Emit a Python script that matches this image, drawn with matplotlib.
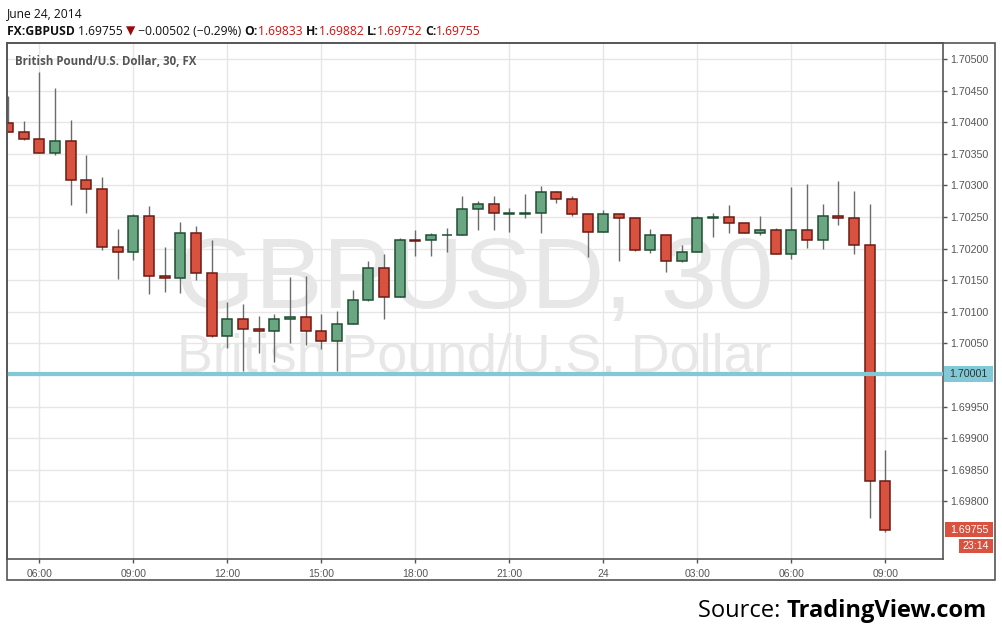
import matplotlib
matplotlib.use("Agg")
import matplotlib.pyplot as plt
from matplotlib.patches import Rectangle
from matplotlib.transforms import blended_transform_factory
import numpy as np

# ---------------- data ----------------
opens = [1.70399, 1.70385, 1.70374, 1.70351, 1.70371, 1.70308, 1.70294, 1.70202, 1.70194, 1.70252,
         1.70157, 1.70153, 1.70224, 1.70161, 1.70062, 1.70089, 1.70073, 1.70070, 1.70089, 1.70092,
         1.70070, 1.70054, 1.70081, 1.70119, 1.70170, 1.70124, 1.70214, 1.70213, 1.70221, 1.70222,
         1.70262, 1.70271, 1.70255, 1.70255, 1.70257, 1.70290, 1.70278, 1.70254, 1.70227, 1.70254,
         1.70249, 1.70198, 1.70221, 1.70181, 1.70195, 1.70248, 1.70250, 1.70241, 1.70225, 1.70230,
         1.70192, 1.70229, 1.70214, 1.70252, 1.70248, 1.70206, 1.69833]
highs = [1.70441, 1.70402, 1.70479, 1.70454, 1.70404, 1.70348, 1.70313, 1.70231, 1.70254, 1.70267,
         1.70203, 1.70242, 1.70235, 1.70214, 1.70116, 1.70113, 1.70093, 1.70096, 1.70155, 1.70157,
         1.70096, 1.70102, 1.70134, 1.70180, 1.70191, 1.70216, 1.70230, 1.70224, 1.70232, 1.70283,
         1.70275, 1.70283, 1.70264, 1.70286, 1.70299, 1.70291, 1.70283, 1.70257, 1.70261, 1.70254,
         1.70249, 1.70231, 1.70221, 1.70206, 1.70251, 1.70257, 1.70269, 1.70241, 1.70251, 1.70232,
         1.70298, 1.70302, 1.70271, 1.70307, 1.70291, 1.70270, 1.69882]
lows = [1.70384, 1.70372, 1.70351, 1.70348, 1.70269, 1.70257, 1.70197, 1.70152, 1.70182, 1.70128,
        1.70131, 1.70130, 1.70150, 1.70060, 1.70042, 1.70007, 1.70035, 1.70021, 1.70051, 1.70047,
        1.70041, 1.70007, 1.70081, 1.70117, 1.70089, 1.70124, 1.70188, 1.70188, 1.70195, 1.70222,
        1.70229, 1.70229, 1.70226, 1.70249, 1.70225, 1.70272, 1.70252, 1.70187, 1.70227, 1.70181,
        1.70196, 1.70193, 1.70163, 1.70179, 1.70195, 1.70219, 1.70224, 1.70225, 1.70221, 1.70192,
        1.70184, 1.70201, 1.70200, 1.70238, 1.70192, 1.69773, 1.69752]
closes = [1.70384, 1.70374, 1.70351, 1.70371, 1.70308, 1.70294, 1.70202, 1.70194, 1.70252, 1.70157,
          1.70153, 1.70224, 1.70161, 1.70062, 1.70089, 1.70073, 1.70070, 1.70089, 1.70092, 1.70070,
          1.70054, 1.70081, 1.70119, 1.70170, 1.70124, 1.70214, 1.70212, 1.70222, 1.70222, 1.70262,
          1.70271, 1.70256, 1.70256, 1.70257, 1.70290, 1.70278, 1.70254, 1.70227, 1.70254, 1.70249,
          1.70198, 1.70221, 1.70181, 1.70195, 1.70248, 1.70250, 1.70241, 1.70225, 1.70230, 1.70192,
          1.70229, 1.70214, 1.70252, 1.70248, 1.70206, 1.69833, 1.69755]

x_tick_pos = [2, 8, 14, 20, 26, 32, 38, 44, 50, 56]
x_tick_labels = ["06:00", "09:00", "12:00", "15:00", "18:00", "21:00", "24", "03:00", "06:00", "09:00"]
y_ticks = [1.69800, 1.69850, 1.69900, 1.69950, 1.70000, 1.70050, 1.70100, 1.70150,
           1.70200, 1.70250, 1.70300, 1.70350, 1.70400, 1.70450, 1.70500]
hline_value = 1.70001
last_price = 1.69755
countdown = "23:14"

# ---------------- figure ----------------
W, H = 1002, 637
fig = plt.figure(figsize=(W / 100, H / 100), dpi=100)
fig.patch.set_facecolor("white")

def fx(x):
    return x / W

def fy(y):
    return 1 - y / H

L, R, T, B = 6.7, 943.3, 43.3, 559.3
ax = fig.add_axes([fx(L), fy(B), fx(R) - fx(L), fy(T) - fy(B)])
ax.set_facecolor("white")

RED_F, RED_E = "#d9523f", "#6b1a13"
GRN_F, GRN_E = "#6aa682", "#1f4f33"
WICK = "#6b6b6b"
GRID = "#e6e6e6"
FRAME = "#555555"
BLUE = "#82c9d8"

n = len(opens)
idx = np.arange(n)
bw = 0.64
for i in idx:
    o, h, l, c = opens[i], highs[i], lows[i], closes[i]
    up = c >= o
    ax.vlines(i, l, h, color=WICK, lw=1.0, zorder=3)
    bot = min(o, c)
    ht = abs(c - o)
    ax.add_patch(Rectangle((i - bw / 2, bot), bw, ht,
                           facecolor=GRN_F if up else RED_F,
                           edgecolor=GRN_E if up else RED_E, lw=1.1, zorder=4))

ax.set_xlim(-0.083, 59.69)
ax.set_ylim(1.697084, 1.705248)
PXY = 1 / 63200.0  # price units per pixel (for label box sizes)

# grid
for yv in y_ticks:
    ax.axhline(yv, color=GRID, lw=1, zorder=0)
for xv in x_tick_pos:
    ax.axvline(xv, color=GRID, lw=1, zorder=0)

bt = blended_transform_factory(ax.transAxes, ax.transData)

# watermark
ax.text(0.4995, 1.70106, "GBPUSD, 30", transform=bt,
        ha="center", va="baseline", fontsize=73, color="#e7e7e7", family="Liberation Sans", zorder=1)
ax.text(0.4995, 1.70005, "British Pound/U.S. Dollar", transform=bt,
        ha="center", va="baseline", fontsize=38.7, color="#e7e7e7", family="Liberation Sans", zorder=1)

# horizontal line
ax.axhline(hline_value, color=BLUE, lw=3, zorder=5)

# ticks
ax.set_xticks(x_tick_pos)
ax.set_xticklabels(x_tick_labels, family="Liberation Sans", fontsize=7.5, color="#555555")
ax.yaxis.tick_right()
ax.set_yticks(y_ticks)
ax.set_yticklabels(["" if abs(v - 1.7) < 1e-9 else f"{v:.5f}" for v in y_ticks],
                   family="Liberation Sans", fontsize=7.7, color="#555555")
ax.tick_params(axis="both", direction="out", length=3, color=FRAME, width=1)
ax.tick_params(axis="x", pad=4)
ax.tick_params(axis="y", pad=2)
for s in ax.spines.values():
    s.set_color(FRAME)
    s.set_linewidth(1.2)

# outer frame
fig.patches.append(Rectangle((fx(L), fy(580.3)), fx(995.3) - fx(L), fy(T) - fy(580.3),
                             transform=fig.transFigure, fill=False, edgecolor=FRAME, lw=1.2))

# right-side labels (boxes)
def ax_frac(px):
    return (px - L) / (R - L)

def label_box(x0px, x1px, yc, hpx, color, text, tcolor):
    ax.add_patch(Rectangle((ax_frac(x0px), yc - hpx / 2 * PXY), ax_frac(x1px) - ax_frac(x0px), hpx * PXY,
                           transform=bt, facecolor=color, edgecolor="none", zorder=9, clip_on=False))
    ax.text((ax_frac(x0px) + ax_frac(x1px)) / 2, yc, text, transform=bt, ha="center", va="center",
            fontsize=7.7, family="Liberation Sans", color=tcolor, zorder=10, clip_on=False)

label_box(944, 993, hline_value, 16, BLUE, "1.70001", "#333333")
label_box(945, 993, last_price, 15, RED_F, "1.69755", "white")
label_box(959, 993, last_price - 0.000256, 14, RED_F, countdown, "white")

# chart title inside
fig.text(fx(15), fy(65), "British Pound/U.S. Dollar, 30, FX", fontsize=8.3, fontweight="bold",
         color="#555555", family="Open Sans", ha="left", va="baseline")

# header
fig.text(fx(7), fy(17), "June 24, 2014", fontsize=8.7, color="#111111", family="Open Sans",
         ha="left", va="baseline")

renderer = fig.canvas.get_renderer()

def chain(x, y, pieces):
    for txt, color, weight, fam in pieces:
        t = fig.text(fx(x), fy(y), txt, fontsize=8.7, color=color, fontweight=weight,
                     family=fam, ha="left", va="baseline")
        bb = t.get_window_extent(renderer=renderer)
        x = bb.x1
    return x

FAM = ["Open Sans", "DejaVu Sans"]
chain(7, 35, [
    ("FX:GBPUSD ", "#111111", "bold", FAM),
    ("1.69755 ", "#111111", "normal", FAM),
    ("\u25bc", "#9b0a0a", "normal", ["DejaVu Sans"]),
    (" \u22120.00502 (\u22120.29%) ", "#111111", "normal", FAM),
    ("O:", "#111111", "bold", FAM),
    ("1.69833 ", "#cc1111", "normal", FAM),
    ("H:", "#111111", "bold", FAM),
    ("1.69882 ", "#cc1111", "normal", FAM),
    ("L:", "#111111", "bold", FAM),
    ("1.69752 ", "#cc1111", "normal", FAM),
    ("C:", "#111111", "bold", FAM),
    ("1.69755", "#cc1111", "normal", FAM),
])

# source
t2 = fig.text(fx(987), fy(617), "TradingView.com", fontsize=17, fontweight="bold", color="black",
              family="Open Sans", ha="right", va="baseline")
bb = t2.get_window_extent(renderer=renderer)
fig.text(bb.x0 / W, fy(617), "Source: ", fontsize=17, color="black",
         family="Open Sans", ha="right", va="baseline")

fig.savefig("out.png", dpi=100, facecolor="white")
